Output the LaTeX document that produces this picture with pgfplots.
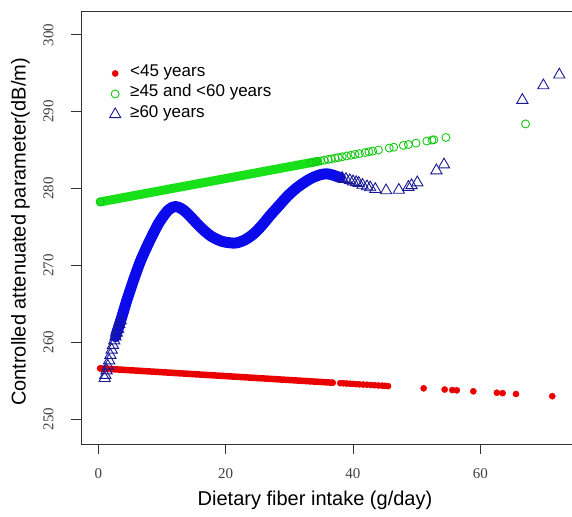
\documentclass[border=0pt]{standalone}
\usepackage{pgfplots}
\pgfplotsset{compat=1.18}
\usepackage{fontspec}
\setmainfont{Liberation Sans}
\newfontfamily\tickfont{Liberation Serif}
\definecolor{cred}{RGB}{235,0,0}
\definecolor{cgreen}{RGB}{25,225,25}
\definecolor{cgreenm}{RGB}{20,200,20}
\definecolor{cblue}{RGB}{10,10,235}
\definecolor{ctri}{RGB}{25,25,150}
\begin{document}
\begin{tikzpicture}
\useasboundingbox (-81pt,-72pt) rectangle (491pt,444pt);
\begin{axis}[
  at={(0pt,0pt)}, anchor=south west,
  width=491pt, height=433pt, scale only axis,
  xmin=-2.72, xmax=74.4, ymin=246.74, ymax=303.1,
  axis x line*=bottom, axis y line*=left,
  axis line style={black!80, line width=0.8pt},
  xtick={0,20,40,60}, ytick={250,260,270,280,290,300},
  tick align=outside, major tick length=10pt,
  tick style={black!80, line width=0.8pt},
  minor tick num=0,
  /pgf/number format/assume math mode=true,
  ticklabel style={font=\tickfont\fontsize{15}{15}\selectfont, text=black!75},
  yticklabel style={rotate=90, anchor=south},
  xticklabel shift={11pt}, yticklabel shift={14pt},
  xlabel={Dietary fiber intake (g/day)},
  ylabel={Controlled attenuated parameter(dB/m)},
  label style={font=\fontsize{20}{24}\selectfont},
  xlabel style={at={(axis description cs:0.4766,-0.1409)}, anchor=base},
  ylabel style={at={(axis description cs:-0.1130,0.4896)}, anchor=base},
  legend style={draw=none, fill=none, at={(axis description cs:0.057,0.8799)}, anchor=north west,
    font=\fontsize{17}{20}\selectfont, row sep=0pt, column sep=0pt, inner sep=0pt,
    nodes={inner xsep=0pt, inner ysep=0pt, text height=13pt, text depth=7.5pt}},
  legend cell align=left,
  legend image code/.code={\path[draw=none,fill=none] (-6pt,0pt) -- (15pt,0pt); \draw[#1, only marks] plot coordinates {(0pt,0pt)};},
]
% red band
\addplot[cred, line width=6.5pt, line cap=round, forget plot] coordinates {(0.3,256.58) (36.8,254.72)};
\addplot[only marks, mark=*, mark size=3.1pt, color=cred, mark options={draw=cred, fill=cred}] coordinates {
(0.3,256.58) (36.8,254.72) (38.0,254.66) (38.5,254.64) (39.0,254.61) (39.5,254.59) (40.0,254.56)
(40.5,254.53) (41.0,254.51) (41.6,254.48) (42.2,254.45) (42.8,254.42) (43.4,254.39) (44.0,254.36)
(44.6,254.33) (45.0,254.31) (45.5,254.28) (51.1,253.99) (54.4,253.83) (55.6,253.76) (56.3,253.73)
(58.9,253.60) (62.6,253.41) (63.5,253.36) (65.6,253.25) (71.3,252.96)};
\addlegendentry{<45 years}
% green band
\addplot[cgreen, line width=9pt, line cap=round, forget plot] coordinates {(0.3,278.25) (34.5,283.53)};
\addplot[only marks, mark=o, mark size=4pt, color=cgreenm, mark options={line width=0.9pt}] coordinates {
(0.3,278.25) (33.5,283.38) (34.2,283.48) (34.9,283.59) (35.5,283.68) (36.1,283.78) (36.6,283.85)
(37.2,283.95) (37.7,284.02) (38.3,284.12) (39.0,284.23) (39.7,284.33) (40.3,284.43) (41.0,284.53)
(41.9,284.67) (42.5,284.77) (43.1,284.86) (44.0,285.00) (45.7,285.26) (46.4,285.37) (47.9,285.60)
(48.7,285.72) (49.9,285.90) (51.6,286.17) (52.4,286.30) (52.7,286.34) (54.6,286.64) (67.1,288.40)};
\addlegendentry{≥45 and <60 years}
% blue band
\addplot[cblue, line width=11pt, smooth, line cap=round, line join=round, forget plot] coordinates {
(2.7,260.7) (3.7,263.3) (4.5,265.5) (5.55,268.1) (6.6,270.5) (7.9,272.9) (9.5,275.5) (11.0,277.2)
(12.1,277.65) (13.2,277.3) (14.4,276.4) (16.0,275.0) (17.7,273.8) (19.5,273.1) (21.5,272.9)
(23.0,273.3) (24.4,274.1) (25.7,275.2) (27.0,276.5) (28.3,277.7) (29.6,278.9) (30.9,279.9)
(32.2,280.7) (33.5,281.35) (34.9,281.8) (36.0,281.9) (37.0,281.7) (38.0,281.4)};
\addplot[only marks, mark=triangle, mark size=6.5pt, color=ctri, mark options={line width=0.9pt}] coordinates {
(1.0,255.3) (1.1,255.7) (1.3,256.3) (1.5,256.9) (1.7,257.6) (1.9,258.3) (2.1,259.0) (2.3,259.6)
(2.5,260.2) (2.7,260.7) (2.9,261.2) (3.1,261.7) (3.3,262.3) (3.5,262.8)
(38.3,281.35) (38.9,281.2) (39.5,281.05) (40.0,280.9) (40.5,280.8) (40.9,280.7) (41.5,280.45)
(42.2,280.25) (42.7,280.12) (43.5,279.9) (45.2,279.73) (47.2,279.8) (48.7,280.17) (49.2,280.4)
(50.1,280.77) (53.1,282.33) (54.3,283.1) (66.6,291.5) (69.9,293.4) (72.4,294.8)};
\addlegendentry{≥60 years}
\draw[black!80, line width=0.8pt] (rel axis cs:0,1) -- (rel axis cs:1,1);
\end{axis}
\end{tikzpicture}
\end{document}
